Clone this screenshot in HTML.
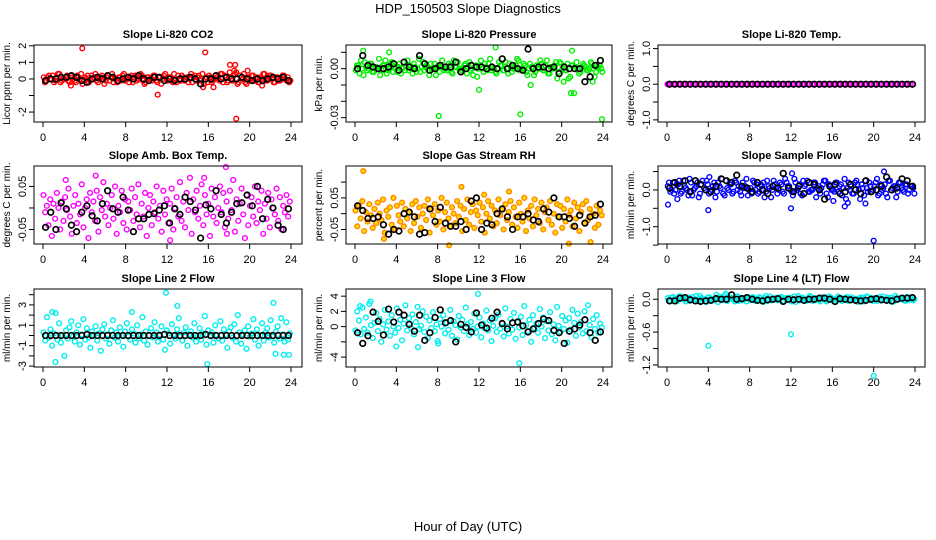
<!DOCTYPE html>
<html><head><meta charset="utf-8"><style>
body{margin:0;background:#fff;}
svg{display:block;font-family:"Liberation Sans",Arial,sans-serif;}
</style></head><body>
<svg id="c" width="936" height="540" viewBox="0 0 936 540">
<text x="468" y="13" text-anchor="middle" font-size="13">HDP_150503  Slope Diagnostics</text>
<text x="468" y="531" text-anchor="middle" font-size="13">Hour of Day (UTC)</text>
</svg>
<script>
const xTicks=[0,4,8,12,16,20,24];
const co2Col=[1,-1,2,0,-2,1,3,-1,0,2,-2,1,-1,2,0,-3,1,2,-1,0,3,-2,1,0,-1,2,1,-2,0,1,-1,3,0,-2,2,1,-1,0,2,-3,1,0,-1,2,-2,1,0,3,-1,1,-2,0,2,-1,1,0,-2,3,1,-1,2,0,-3,1,2,-2,0,1,-1,3,2,-2,4,-1,3,-3,2,0,-2,1,-1,2,0,-2,1,3,-1,0,2,-2,1,-1,0,2,-1,-2];
const co2Col2=[-2,1,0,2,-1,3,-2,0,1,-1,2,0,-2,1,3,-1,0,-2,2,1,-1,0,2,-3,1,-1,3,0,-2,1,2,-1,0,1,-2,2,0,3,-1,-2,1,0,2,-1,1,-3,2,0,1,-1,3,-2,0,2,-1,1,0,-2,2,1,-1,3,0,-2,1,-1,2,0,3,-2,1,-1,0,2,4,-2,1,3,-3,0,2,-1,1,-2,0,3,-1,2,0,-2,1,-1,2,0,1,-1];
const co2OutH=[3.8,15.7,11.1,18.7,18.1,18.6,18.5,19.8,15.5,16.5,2.7,21.2];
const co2OutV=[18.5,16,-9.5,-24,8.5,8.5,5,5,-5,-5,-4,-4];
const co2Blk=[-1,0,0,1,1,2,1,-1,-2,0,1,0,2,1,-1,0,1,0,2,0,-1,1,1,-1,0,-1,0,0,1,0,-3,0,0,2,0,1,0,0,1,0,-1,0,-1,0,1,0,1,-1];
const presCol=[-1,2,5,-4,1,0,3,-2,1,6,-1,2,-3,0,4,1,-2,3,0,-1,5,2,-3,1,0,-2,4,1,-1,3,0,-4,2,1,-1,0,3,-2,5,1,0,-1,2,-3,4,0,1,-5,2,0,3,-1,6,1,-2,0,2,-1,4,-3,1,0,2,5,-1,3,-2,0,1,-4,2,0,3,-1,5,-3,1,2,-6,4,0,-1,3,-5,2,1,0,-2,3,1,-1,4,0,-2,1,0];
const presCol2=[2,-3,0,4,-1,3,-2,1,0,-4,2,5,-1,3,-2,0,1,-3,4,2,-1,0,3,-2,6,1,-1,2,-4,0,3,1,-2,5,0,-1,2,-3,1,4,-2,0,3,1,-1,-4,2,0,5,-2,1,3,-1,0,-3,4,2,-1,0,3,-2,1,6,-1,0,2,-4,3,1,-2,0,5,-1,2,-3,1,0,4,-2,3,1,-1,-6,2,0,4,-3,1,2,-1,0,3,-5,1,2,-2];
const presOutH=[8.1,16,23.9,12,20.9,21.2,13.6,21,17,0.8,3.3,20.2,23];
const presOutV=[-29,-28,-31,-13,-15,-15,13,11,-10,11,10,-8,-8];
const presBlk=[0,8,2,1,0,0,1,3,-1,4,1,0,8,3,-1,0,2,1,1,4,-2,0,2,1,1,0,1,0,6,0,2,0,-1,12,0,1,1,0,1,-3,1,0,0,0,-8,-5,2,5];
const tempCol=[0,0,0,0,0,0,0,0,0,0,0,0,0,0,0,0,0,0,0,0,0,0,0,0,0,0,0,0,0,0,0,0,0,0,0,0,0,0,0,0,0,0,0,0,0,0,0,0,0,0,0,0,0,0,0,0,0,0,0,0,0,0,0,0,0,0,0,0,0,0,0,0,0,0,0,0,0,0,0,0,0,0,0,0,0,0,0,0,0,0,0,0,0,0,0,0];
const tempOutH=[0.05,0.15];
const tempOutV=[0,0];
const tempBlk=[0,0,0,0,0,0,0,0,0,0,0,0,0,0,0,0,0,0,0,0,0,0,0,0,0,0,0,0,0,0,0,0,0,0,0,0,0,0,0,0,0,0,0,0,0,0,0,0];
const ambCol=[30,-10,5,-40,20,-65,10,-25,35,0,-50,15,-30,25,-5,45,-20,-60,5,30,-35,10,-15,55,-45,0,20,-70,35,-10,15,-30,40,-55,25,-5,60,-20,10,-40,0,30,-25,50,-60,5,-10,40,-35,20,-50,15,-5,45,-30,25,-15,55,-45,10,-20,35,-65,0,30,-40,15,-10,50,-25,5,-55,40,-15,20,-35,10,45,-50,0,25,-20,60,-30,15,-45,35,-5,70,-60,20,-10,40,-25,5,55,-40,30,-15,10,-65,45,-20,25,-35,0,50,-10,35,-45,15,-25,40,-5,65,-55,20,-30,10,45,-15,-70,30,-40,5,25,-20,50,-35,15,-5,40,-60,10,-25,35,-45,20,0,-15,45,-30,25,-50,5,-10,30,-20,15];
const ambOutH=[17.7,5.1,15.6,2.2,12.3,17.8];
const ambOutV=[95,75,70,65,-75,-60];
const ambBlk=[-45,-10,-50,12,-2,-40,-55,-10,5,-18,-30,10,40,-2,-10,25,-5,-55,-25,-25,-15,-13,-5,5,-35,-2,-15,25,15,-5,-70,7,-2,40,-15,-35,-10,10,12,30,5,50,-25,20,0,-40,-50,-2];
const rhCol=[10,-40,25,-15,40,-55,5,-25,30,-5,-45,15,-30,35,0,-20,45,-60,10,-10,20,-35,50,-50,25,-5,-25,35,-40,15,-15,5,-55,30,-30,40,-10,20,-45,0,25,-20,45,-60,15,-5,30,-35,10,-25,50,-50,5,35,-15,-40,20,0,-30,40,-10,25,-55,15,-20,45,-35,5,30,-45,10,-5,35,-25,20,-60,0,40,-15,25,-40,10,-30,45,-5,15,-50,30,-20,5,40,-35,20,-10,-45,35,0,-25,50,-55,10,-15,25,-40,45,-5,15,-30,35,-50,5,20,-20,40,-35,0,-60,30,-10,25,-45,15,-25,45,-5,10,-40,35,-15,20,-55,5,30,-30,40,-20,15,-10,0,-45,25,-35,10,-5];
const rhOutH=[0.8,10.3,9.1,20.7,22.8,14.9,12.5,2.8];
const rhOutV=[135,85,-100,-95,-90,70,60,-80];
const rhBlk=[25,10,-15,-15,-10,-35,-65,-50,-55,0,5,-10,-65,-60,15,-25,20,-30,-40,-40,-25,-50,40,50,-50,-30,-35,0,15,-10,-50,-10,-10,0,-20,-25,15,5,50,-10,-10,-15,-40,-5,-30,-10,-5,30];
const sfCol=[10,-5,20,0,15,-10,25,5,-15,20,0,10,-20,15,5,25,-10,0,20,-5,10,30,-15,5,15,-10,25,0,-5,20,10,-15,5,25,0,-10,15,20,-5,10,-20,25,5,0,15,-10,20,10,-5,30,0,15,-15,10,25,-5,0,20,5,-10,15,25,-20,10,0,20,-5,15,5,-25,20,10,-10,25,0,15,-15,5,20,-5,10,30,-10,0,15,-20,25,5,10,-5,20,0,15,-10,10,5];
const sfCol2=[20,0,-10,15,25,-5,10,0,30,-15,5,20,-10,25,0,15,-5,10,-20,20,5,-10,25,0,15,-5,20,10,-15,5,30,0,-10,20,15,-5,10,-20,25,5,0,15,-10,20,-5,30,10,0,-15,20,5,-10,25,15,-5,0,20,-20,10,5,25,-10,15,0,-5,20,10,-15,30,5,0,-10,20,15,-25,5,25,-5,10,0,20,-15,15,5,-10,25,0,10,-20,20,5,-5,15,0,10,-10];
const sfOutH=[0.1,4,12,20,21,17.2,17.5,19.2,4.1,12.1,16.1,1];
const sfOutV=[-40,-55,-50,-138,50,-45,-35,-37,35,45,-30,-25];
const sfBlk=[5,20,10,25,-5,25,15,0,-5,10,30,25,20,40,10,5,-5,20,0,-10,10,5,45,5,-5,10,-10,20,15,0,-25,10,15,-10,-5,15,0,-10,25,-5,0,10,35,0,5,30,25,10];
const l2Col=[3,-5,18,-2,6,-10,2,22,-4,12,-7,0,-20,5,-3,8,14,-1,-6,3,10,-9,1,16,-4,7,-2,-12,4,0,9,-5,2,-15,6,11,-3,1,-8,5,15,-2,3,-6,8,0,-11,4,12,-1,-4,6,2,-7,10,-3,1,18,-5,4,-9,0,7,-2,13,3,-6,1,9,-4,-14,5,2,-8,11,0,-3,6,17,-1,-5,3,8,-10,1,4,-2,12,-6,0,7,-4,2,19,-9,5,-1,3,-7,10,0,-3,14,-5,6,1,-12,4,8,-2,11,-6,20,3,-8,1,5,-13,9,-1,2,16,-4,6,-10,0,12,-5,3,7,-2,15,-1,-7,4,9,-3,17,1,-6,13,-4,2];
const l2OutH=[1.2,11.9,13,15.9,22.3,8.6,0.9,22.5,23.3,23.8];
const l2OutV=[-26,42,29,-28,32,23,23,-18,-19,-19];
const l2Blk=[0,0,0,0,0,0,0,0,1,0,0,0,0,0,0,0,0,0,0,0,0,0,0,1,0,0,0,0,0,0,0,1,0,0,0,0,0,0,0,0,0,0,0,0,0,0,0,0];
const l3Col=[-5,20,8,-10,25,-3,12,-8,30,2,-15,5,18,-6,10,-20,3,22,-4,7,-12,15,0,-8,24,-2,9,-18,4,28,-5,11,-1,16,-10,6,26,-3,1,20,-7,13,-15,8,-2,19,-6,3,-22,10,0,15,-9,5,-4,22,-12,7,2,-17,14,-1,9,-6,25,3,-11,6,-3,17,-8,0,12,-14,4,-2,21,-5,8,-19,1,11,-7,16,-3,5,-13,24,0,-9,10,-4,18,-16,6,-1,13,-11,27,2,-6,9,-20,15,-2,4,-8,23,0,12,-15,7,-5,19,-10,3,-18,26,1,-7,14,-3,8,-21,11,-4,22,5,-12,17,-1,6,-9,20,-6,28,2,-14,10,-3,15,-8,4,-1];
const l3OutH=[11.9,15.9,8.0,6.1,4,0.5,1.5];
const l3OutV=[43,-48,-19,-27,-26,27,33];
const l3Blk=[-8,-22,-12,19,7,-11,23,6,19,15,3,-6,15,-18,-8,12,22,5,8,-20,3,-1,-7,18,2,-2,11,19,4,-3,5,6,1,-7,-3,4,10,8,-5,-8,-22,-6,-3,2,9,-8,-18,-7];
const l4Col=[2,-3,4,0,-2,5,1,-4,3,0,-1,6,-3,2,0,-5,4,1,-2,3,0,-1,7,-3,2,1,-4,5,0,-2,3,1,-1,4,-3,0,2,-5,6,1,-2,0,3,-1,4,-3,2,0,-4,5,1,-2,3,0,-1,6,-3,2,1,-4,4,0,-2,3,1,-5,5,0,-1,2,-3,4,1,-2,0,3,-4,5,-1,2,0,-3,4,1,-2,3,0,-5,6,-1,2,0,-3,4,1,-2];
const l4Col2=[-2,3,0,-4,5,1,-1,2,-3,4,0,-2,6,1,-4,3,0,-1,2,-5,4,1,-2,0,3,-1,5,-3,2,0,-4,1,3,-2,0,4,-1,2,-3,5,0,1,-2,4,-4,2,0,3,-1,-5,6,0,2,-3,1,4,-1,0,-2,3,2,-4,5,1,-1,0,3,-3,2,4,-2,0,1,-5,3,2,-1,4,0,-3,2,1,-2,5,-1,0,3,-4,2,1,0,-2,4,-1,3,0];
const l4OutH=[4,12,20,5.7,4.8];
const l4OutV=[-85,-64,-140,10,8];
const l4Blk=[-3,-3,2,3,-1,-3,-4,-3,-2,1,0,0,8,0,1,3,0,-2,-3,-1,0,1,-4,0,-1,0,-2,0,0,2,2,0,-4,1,0,-1,-2,-3,-2,0,1,-1,-2,-3,0,2,2,3];

const panels=[
 {name:'co2',title:'Slope Li-820 CO2',yl:'Licor ppm per min.',col:0,row:0,sc:0.1,ylim:[-2.6,2.05],ticks:[-2,-1,0,1,2],labs:['-2','','0','1','2'],c:'#ff0000',f:'none',d:co2Col,d2:co2Col2,oh:co2OutH,ov:co2OutV,b:co2Blk},
 {name:'pressure',title:'Slope Li-820 Pressure',yl:'kPa per min.',col:1,row:0,sc:0.001,ylim:[-0.0327,0.0145],ticks:[-0.03,-0.02,-0.01,0,0.01],labs:['-0.03','','','0.00',''],c:'#00ee00',f:'none',d:presCol,d2:presCol2,oh:presOutH,ov:presOutV,b:presBlk},
 {name:'temp',title:'Slope Li-820 Temp.',yl:'degrees C per min.',col:2,row:0,sc:1,ylim:[-1.06,1.1],ticks:[-1,-0.5,0,0.5,1],labs:['-1.0','','0.0','','1.0'],c:'#ff00ff',f:'none',d:tempCol,d2:[],oh:tempOutH,ov:tempOutV,b:tempBlk},
 {name:'amb-box',title:'Slope Amb. Box Temp.',yl:'degrees C per min.',col:0,row:1,sc:0.001,ylim:[-0.0837,0.0975],ticks:[-0.05,0,0.05],labs:['-0.05','','0.05'],c:'#ff00ff',f:'none',d:ambCol,d2:[],oh:ambOutH,ov:ambOutV,b:ambBlk},
 {name:'gas-rh',title:'Slope Gas Stream RH',yl:'percent per min.',col:1,row:1,sc:0.001,ylim:[-0.096,0.151],ticks:[-0.05,0,0.05,0.1],labs:['-0.05','','0.05',''],c:'#ff8800',f:'#ffdd00',d:rhCol,d2:[],oh:rhOutH,ov:rhOutV,b:rhBlk},
 {name:'sample-flow',title:'Slope Sample Flow',yl:'ml/min per min.',col:2,row:1,sc:0.01,ylim:[-1.47,0.65],ticks:[-1.5,-1,-0.5,0,0.5],labs:['','-1.0','','0.0',''],c:'#0000ff',f:'none',d:sfCol,d2:sfCol2,oh:sfOutH,ov:sfOutV,b:sfBlk},
 {name:'line2',title:'Slope Line 2 Flow',yl:'ml/min per min.',col:0,row:2,sc:0.1,ylim:[-3.09,4.56],ticks:[-3,-2,-1,0,1,2,3,4],labs:['-3','','-1','','1','','3',''],c:'#00eeee',f:'none',d:l2Col,d2:[],oh:l2OutH,ov:l2OutV,b:l2Blk},
 {name:'line3',title:'Slope Line 3 Flow',yl:'ml/min per min.',col:1,row:2,sc:0.1,ylim:[-5.3,4.94],ticks:[-4,-2,0,2,4],labs:['-4','','0','2','4'],c:'#00eeee',f:'none',d:l3Col,d2:[],oh:l3OutH,ov:l3OutV,b:l3Blk},
 {name:'line4',title:'Slope Line 4 (LT) Flow',yl:'ml/min per min.',col:2,row:2,sc:0.01,ylim:[-1.237,0.187],ticks:[-1.2,-0.9,-0.6,-0.3,0],labs:['-1.2','','-0.6','','0.0'],c:'#00eeee',f:'none',d:l4Col,d2:l4Col2,oh:l4OutH,ov:l4OutV,b:l4Blk}
];
const NS='http://www.w3.org/2000/svg';
const svg=document.getElementById('c');
const boxL=[34,346,658], boxR=[302,612,925], x0s=[43,355,667];
const boxT=[45,166,289], boxB=[122,244,367];
function mk(t,a,p){const e=document.createElementNS(NS,t);for(const k in a)e.setAttribute(k,a[k]);(p||svg).appendChild(e);return e;}
panels.forEach(P=>{
  const L=boxL[P.col],R=boxR[P.col],T=boxT[P.row],B=boxB[P.row],X0=x0s[P.col];
  const g=mk('g',{});
  
  
  const xs=h=>X0+h*248/24;
  const ys=v=>B-(v-P.ylim[0])/(P.ylim[1]-P.ylim[0])*(B-T);
  const t=mk('text',{x:(L+R)/2,y:T-7,'text-anchor':'middle','font-size':11,'font-weight':'bold'},g);t.textContent=P.title;
  
  
  const yl=mk('text',{x:0,y:0,'text-anchor':'middle','font-size':10,transform:`translate(${L-24},${(T+B)/2}) rotate(-90)`},g);yl.textContent=P.yl;
  
  
  const pts=mk('g',{fill:P.f,stroke:P.c,'stroke-width':1.4},g);
  
  
  P.d.forEach((v,i)=>{const h=(i+0.3)*24/P.d.length;const c=mk('circle',{cx:xs(h),cy:ys(v*P.sc),r:2.4},pts);
    
    });
  P.d2.forEach((v,i)=>{const h=(i+0.75)*24/P.d2.length;const c=mk('circle',{cx:xs(h),cy:ys(v*P.sc),r:2.4},pts);
    
    });
  P.oh.forEach((h,i)=>{const c=mk('circle',{cx:xs(h),cy:ys(P.ov[i]*P.sc),r:2.4},pts);
    
    });
  const bk=mk('g',{fill:'none',stroke:'#000','stroke-width':1.7},g);
  
  
  P.b.forEach((v,i)=>{const h=(i+0.5)*24/P.b.length;const c=mk('circle',{cx:xs(h),cy:ys(v*P.sc),r:2.8},bk);
    
    });
  const bx=mk('rect',{x:L,y:T,width:R-L,height:B-T,fill:'none',stroke:'#000','stroke-width':1},g);
  
  
  mk('line',{x1:xs(0),x2:xs(24),y1:B,y2:B,stroke:'#000'},g);
  xTicks.forEach(v=>{mk('line',{x1:xs(v),x2:xs(v),y1:B,y2:B+5,stroke:'#000'},g);
    const tl=mk('text',{x:xs(v),y:B+19,'text-anchor':'middle','font-size':11},g);tl.textContent=v;
    
    });
  mk('line',{x1:L,x2:L,y1:ys(P.ticks[0]),y2:ys(P.ticks[P.ticks.length-1]),stroke:'#000'},g);
  P.ticks.forEach((v,i)=>{mk('line',{x1:L-5,x2:L,y1:ys(v),y2:ys(v),stroke:'#000'},g);
    if(P.labs[i]){const tl=mk('text',{x:0,y:0,'text-anchor':'middle','font-size':11,transform:`translate(${L-8},${ys(v)}) rotate(-90)`},g);tl.textContent=P.labs[i];
    
    }});
});
</script>
</body></html>
